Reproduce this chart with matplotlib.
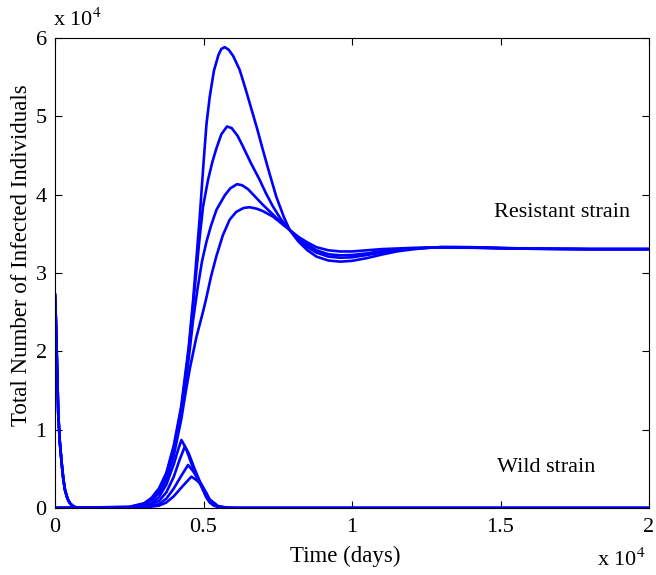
import matplotlib
matplotlib.use("Agg")
import matplotlib.pyplot as plt
from matplotlib.ticker import FuncFormatter

plt.rcParams['font.family'] = ['Liberation Serif', 'DejaVu Serif']
plt.rcParams['mathtext.fontset'] = 'stix'

# ---------------- data ----------------
# Resistant strain, four runs
res_a_t = [0, 2500, 3000, 3250, 3500, 3750, 4000, 4250, 4500, 4650, 4870, 5000, 5100, 5210, 5350, 5500, 5600, 5714, 5850, 6000, 6218, 6400, 6554, 6800, 7000, 7200, 7450, 7700, 7900, 8200, 8500, 8800, 9200, 9600, 10000, 10500, 11000, 11500, 12000, 12500, 13000, 13500, 14000, 15000, 16000, 18000, 20000]
res_a_v = [0, 150, 600, 1300, 2500, 4500, 8000, 13000, 20500, 26500, 37000, 44000, 49000, 52500, 55800, 57800, 58600, 58830, 58500, 57700, 55930, 53700, 51700, 48500, 45700, 43000, 39750, 37200, 35500, 34000, 32900, 32100, 31600, 31450, 31550, 31900, 32350, 32750, 33000, 33200, 33300, 33320, 33300, 33200, 33120, 33050, 33050]

res_b_t = [0, 2500, 3000, 3250, 3500, 3750, 4000, 4250, 4500, 4650, 4870, 4985, 5153, 5300, 5434, 5600, 5790, 5950, 6150, 6330, 6600, 6890, 7100, 7340, 7600, 7900, 8200, 8500, 8800, 9200, 9600, 10000, 10500, 11000, 11500, 12000, 13000, 14000, 15000, 16000, 18000, 20000]
res_b_v = [0, 120, 550, 1200, 2300, 4300, 7700, 12600, 20000, 26000, 34500, 38480, 41900, 44200, 45900, 47700, 48700, 48500, 47500, 46140, 44000, 41900, 40200, 38480, 36900, 35500, 34200, 33300, 32600, 32100, 31950, 32000, 32300, 32600, 32900, 33100, 33300, 33270, 33180, 33100, 33050, 33050]

res_c_t = [0, 2500, 3000, 3250, 3500, 3750, 4000, 4250, 4500, 4650, 4800, 4950, 5100, 5250, 5434, 5714, 5900, 6128, 6300, 6500, 6750, 7000, 7330, 7600, 7900, 8200, 8500, 8800, 9200, 9600, 10000, 10500, 11000, 12000, 13000, 14000, 15000, 16000, 18000, 20000]
res_c_v = [0, 100, 500, 1100, 2100, 3900, 7200, 12000, 19000, 24000, 28000, 31500, 34000, 36000, 38050, 39900, 40800, 41340, 41200, 40700, 39700, 38700, 37500, 36500, 35500, 34400, 33600, 32900, 32400, 32250, 32300, 32500, 32800, 33150, 33300, 33250, 33170, 33100, 33050, 33050]

res_d_t = [0, 2500, 3000, 3250, 3500, 3750, 4000, 4250, 4400, 4540, 4760, 5000, 5100, 5250, 5430, 5650, 5880, 6100, 6350, 6555, 6800, 7000, 7340, 7600, 7900, 8200, 8500, 8800, 9200, 9600, 10000, 10500, 11000, 12000, 13000, 14000, 15000, 16000, 18000, 20000]
res_d_v = [0, 80, 450, 1000, 1900, 3600, 6700, 11300, 14800, 17800, 21800, 25300, 26900, 29500, 32100, 34800, 36800, 37800, 38300, 38400, 38200, 37900, 37200, 36400, 35500, 34600, 33900, 33300, 32900, 32750, 32750, 32900, 33050, 33200, 33250, 33220, 33150, 33100, 33050, 33050]

# Wild strain, initial decay (shared by all runs)
wild_init_t = [0, 30, 67, 110, 160, 225, 280, 336, 420, 504, 600, 700, 900, 1200]
wild_init_v = [27200, 24000, 18500, 12000, 8500, 5700, 3700, 2300, 1200, 600, 250, 80, 10, 0]

# Wild strain, second hump, four runs
wild_1_t = [1200, 2700, 3000, 3250, 3500, 3750, 4000, 4150, 4257, 4400, 4600, 4800, 4930, 5100, 5210, 5350, 5490, 5700, 6000, 11000, 20000]
wild_1_v = [0, 50, 250, 600, 1400, 3000, 5600, 7500, 8680, 7700, 5600, 3700, 2720, 1300, 700, 300, 120, 20, 0, 0, 0]

wild_2_t = [1200, 2700, 3000, 3500, 3750, 4000, 4200, 4370, 4500, 4700, 4930, 5100, 5210, 5490, 5700, 6000, 11000, 20000]
wild_2_v = [0, 40, 150, 900, 2000, 4000, 6200, 7830, 7000, 5000, 2900, 1500, 800, 150, 30, 0, 0, 0]

wild_3_t = [1200, 2700, 3000, 3500, 3750, 4000, 4250, 4480, 4650, 4800, 4930, 5100, 5210, 5490, 5800, 6100, 11000, 20000]
wild_3_v = [0, 30, 100, 500, 1200, 2500, 4100, 5490, 4700, 3800, 3000, 1700, 950, 200, 30, 0, 0, 0]

wild_4_t = [1200, 2700, 3000, 3500, 3750, 4000, 4300, 4594, 4750, 4930, 5100, 5210, 5490, 5800, 6100, 11000, 20000]
wild_4_v = [0, 20, 50, 300, 700, 1500, 2800, 4000, 3600, 3000, 1900, 1100, 250, 40, 0, 0, 0]

x_ticks = [0, 5000, 10000, 15000, 20000]
y_ticks = [0, 10000, 20000, 30000, 40000, 50000, 60000]

# ---------------- figure ----------------
W, H = 656, 575
fig = plt.figure(figsize=(W / 100, H / 100), dpi=100)
ax = fig.add_axes([55 / W, 67 / H, 594 / W, 470 / H])

blue = (0, 0, 1)
lw = 1.9
for t, v in [(res_a_t, res_a_v), (res_b_t, res_b_v), (res_c_t, res_c_v), (res_d_t, res_d_v)]:
    ax.plot(t, v, color=blue, lw=lw, solid_joinstyle='round')
for t, v in [(wild_1_t, wild_1_v), (wild_2_t, wild_2_v), (wild_3_t, wild_3_v), (wild_4_t, wild_4_v)]:
    ax.plot(wild_init_t, wild_init_v, color=blue, lw=lw, solid_joinstyle='round')
    ax.plot(t, v, color=blue, lw=lw, solid_joinstyle='round')

ax.set_xlim(0, 20000)
ax.set_ylim(0, 60000)
ax.set_xticks(x_ticks)
ax.set_yticks(y_ticks)

def fmt(v, pos):
    return f"{v / 1e4:g}"

ax.xaxis.set_major_formatter(FuncFormatter(fmt))
ax.yaxis.set_major_formatter(FuncFormatter(fmt))
ax.tick_params(direction='in', top=True, right=True, length=5, width=0.8,
               labelsize=16)
ax.tick_params(axis='x', pad=7)
ax.tick_params(axis='y', pad=6)
for sp in ax.spines.values():
    sp.set_linewidth(0.8)

fig.text(345 / W, 1 - 556 / H, 'Time (days)', fontsize=16.5, ha='center', va='center')
fig.text(22 / W, 1 - 255 / H, 'Total Number of Infected Individuals', fontsize=16.5,
         ha='center', va='center', rotation=90)

ax.text(17075, 37700, 'Resistant strain', fontsize=16, ha='center', va='center')
ax.text(16540, 5200, 'Wild strain', fontsize=16, ha='center', va='center')

fig.text(53 / W, 1 - 20 / H, r'x 10$^{4}$', fontsize=16, ha='left', va='center')
fig.text(646 / W, 1 - 560 / H, r'x 10$^{4}$', fontsize=16, ha='right', va='center')

fig.savefig('out.png', dpi=100)
